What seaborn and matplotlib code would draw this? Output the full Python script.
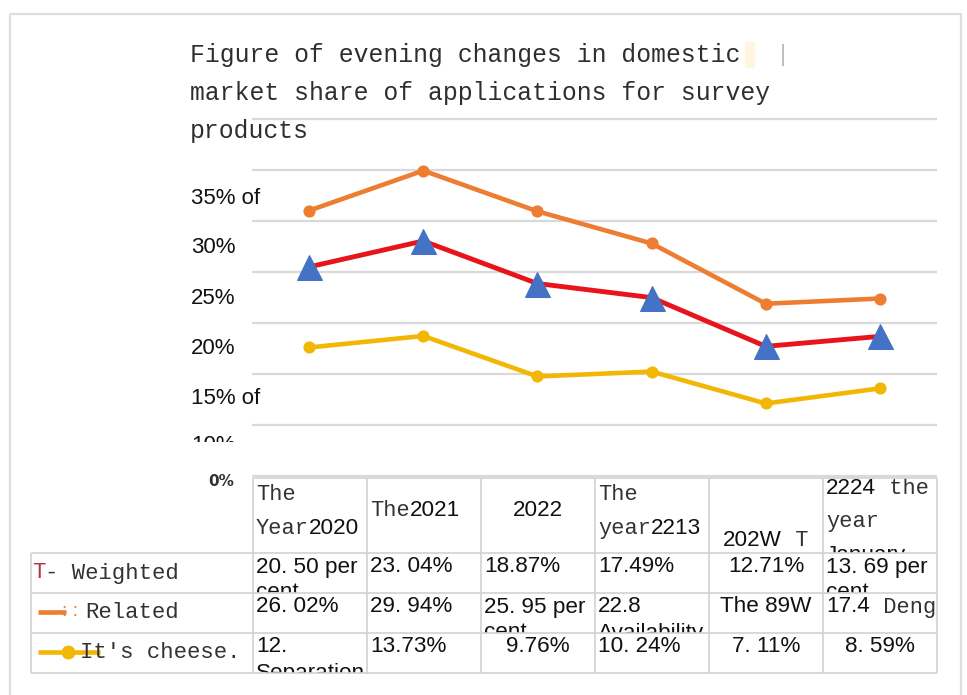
import re
import numpy as np
import pandas as pd
import matplotlib
matplotlib.use("Agg")
import matplotlib.pyplot as plt
import seaborn as sns
from matplotlib.transforms import ScaledTranslation, Bbox, TransformedBbox
from matplotlib.patches import Rectangle

# ---------------- data ----------------
years = ["2020", "2021", "2022", "2023", "2024", "2025"]
weighted = [20.50, 23.04, 18.87, 17.49, 12.71, 13.69]
related = [26.02, 29.94, 25.95, 22.80, 16.89, 17.40]
cheese = [12.60, 13.73, 9.76, 10.24, 7.11, 8.59]

title_lines = ["Figure of evening changes in domestic",
               "market share of applications for survey",
               "products"]
ytick_values = [0, 5, 10, 15, 20, 25, 30, 35]
ytick_labels = ["0%", "", "10%", "15% of", "20%", "25%", "30%", "35% of"]

# {...} marks text drawn in the serif face
header_cells = ["{The}\n{Year}2020", "{The}2021", "2022", "{The}\n{year}2213",
                "202W{ T}", "2224{ the}\n{year}\nJanuary"]
weighted_cells = ["20. 50 per\ncent", "23. 04%", "18.87%", "17.49%", "12.71%", "13. 69 per\ncent"]
related_cells = ["26. 02%", "29. 94%", "25. 95 per\ncent", "22.8\nAvailability", "The 89W", "17.4{ Deng}"]
cheese_cells = ["12.\nSeparation", "13.73%", "9.76%", "10. 24%", "7. 11%", "8. 59%"]

# ---------------- styles ----------------
C_ORANGE = "#ED7D31"
C_RED = "#E8141C"
C_BLUE = "#4472C4"
C_YELLOW = "#F2B705"
C_GRID = "#D9D9D9"
C_TABLE = "#D2D2D2"
SERIF = "Liberation Mono"
SANS = "Liberation Sans"

sns.set_theme(style="white")
plt.rcParams['font.family'] = [SANS, 'DejaVu Sans']

W, H = 967, 695
fig = plt.figure(figsize=(W / 100, H / 100), dpi=100)
fig.patch.set_facecolor("white")

# main axes: 0% at y=476 px, 35% at y=119 px; extended half a unit each side
px_per = (476 - 119) / 35.0
ax_left, ax_right = 252, 937
ax_bot = 476 + 0.5 * px_per
ax_top = 119 - 0.5 * px_per
ax = fig.add_axes([ax_left / W, 1 - ax_bot / H, (ax_right - ax_left) / W, (ax_bot - ax_top) / H])
ax.patch.set_alpha(0)

df_w = pd.DataFrame({"year": years, "share": weighted})
df_r = pd.DataFrame({"year": years, "share": related})
df_c = pd.DataFrame({"year": years, "share": cheese})

sns.lineplot(data=df_r, x="year", y="share", ax=ax, sort=False, errorbar=None,
             color=C_ORANGE, lw=3.3, marker="o", markersize=8,
             markeredgecolor=C_ORANGE, markerfacecolor=C_ORANGE)
sns.lineplot(data=df_c, x="year", y="share", ax=ax, sort=False, errorbar=None,
             color=C_YELLOW, lw=3.3, marker="o", markersize=8,
             markeredgecolor=C_YELLOW, markerfacecolor=C_YELLOW)
sns.lineplot(data=df_w, x="year", y="share", ax=ax, sort=False, errorbar=None,
             color=C_RED, lw=3.5, marker="^", markersize=18,
             markeredgecolor=C_BLUE, markerfacecolor=C_BLUE)

ax.set_xlim(-0.5, len(years) - 0.5)
ax.set_ylim(-0.5, 35.5)
ax.set_xlabel("")
ax.set_ylabel("")
ax.tick_params(axis="x", labelbottom=False, length=0)
for s in ax.spines.values():
    s.set_visible(False)
ax.set_yticks(ytick_values, ytick_labels)
ax.yaxis.grid(True, color=C_GRID, lw=1.6)
ax.xaxis.grid(False)
ax.tick_params(axis="y", length=0, pad=(ax_left - 191) * 0.72, labelsize=16, labelcolor="#111111")

label_dx = [17, 0, 0, 0, 0, 0, 0, 0]
label_dy = [4, 0, 69, 73, 74, 75, 75, 77]
for lab, dx, dy in zip(ax.get_yticklabels(), label_dx, label_dy):
    lab.set_horizontalalignment("left")
    lab.set_transform(lab.get_transform() + ScaledTranslation(dx / 100, -dy / 100, fig.dpi_scale_trans))
    if lab.get_text() == "0%":
        lab.set_fontfamily("DejaVu Sans")
        lab.set_fontweight("bold")
        lab.set_fontsize(11)
        lab.set_color("#333333")

# ---------------- overlay (pixel coordinates) ----------------
tax = fig.add_axes([0, 0, 1, 1], zorder=5)
tax.set_xlim(0, W)
tax.set_ylim(H, 0)
tax.axis("off")
tax.patch.set_alpha(0)

# outer frame
tax.add_patch(Rectangle((10, 14), 951, 700, fill=False, edgecolor="#DEDEDE", lw=1.6))

# hide the lower part of the "10%" label as in the reference
tax.add_patch(Rectangle((180, 442), 70, 29, facecolor="white", edgecolor="none", zorder=10))

# title
for i, line in enumerate(title_lines):
    tax.text(190, 55 + 38 * i, line, family=SERIF, fontsize=17.8, color="#2E2E2E",
             ha="left", va="center")
tax.add_patch(Rectangle((745, 42), 10, 26, facecolor="#FFF6E0", edgecolor="none"))
tax.text(783, 55, "|", fontsize=17, color="#BBBBBB", ha="center", va="center")

renderer = fig.canvas.get_renderer()


def parse(line):
    parts = re.split(r"(\{[^}]*\})", line)
    return [(p[1:-1], True) if p.startswith("{") else (p, False) for p in parts if p]


def seg_props(serif):
    if serif:
        return dict(family=SERIF, fontsize=15.8, color="#333333")
    return dict(family=SANS, fontsize=16.2, color="#111111")


def draw_line(x, y, line, ha, clip):
    segs = parse(line)
    widths = []
    for txt, serif in segs:
        t = tax.text(0, 0, txt, **seg_props(serif))
        widths.append(t.get_window_extent(renderer).width)
        t.remove()
    total = sum(widths)
    cx = x - total / 2 if ha == "center" else x
    for (txt, serif), w in zip(segs, widths):
        t = tax.text(cx, y, txt, ha="left", va="center", zorder=4, **seg_props(serif))
        t.set_clip_box(clip)
        t.set_clip_on(True)
        cx += w


def draw_cell(x0, x1, y0, y1, text, ha, first_off, spacing, pad=3):
    # text is clipped at the cell border, as in the reference
    clip = TransformedBbox(Bbox.from_extents(x0, y0, x1, y1), tax.transData)
    x = (x0 + x1) / 2 if ha == "center" else x0 + pad
    for k, line in enumerate(text.split("\n")):
        draw_line(x, y0 + first_off + k * spacing, line, ha, clip)


# table geometry
ncol = len(years)
col_edges = [ax_left + 1 + i * (ax_right - 1 - ax_left) / ncol for i in range(ncol + 1)]
label_left = 31
hdr_top, hdr_bot = 478, 553
row_edges = [553, 593, 633, 673]

tl = dict(color=C_TABLE, lw=1.2, solid_capstyle="butt", zorder=5)
tax.plot([col_edges[0], col_edges[-1]], [hdr_top, hdr_top], **tl)
for ry in row_edges:
    tax.plot([label_left, col_edges[-1]], [ry, ry], **tl)
tax.plot([label_left, label_left], [row_edges[0], row_edges[-1]], **tl)
for cx in col_edges:
    tax.plot([cx, cx], [hdr_top, row_edges[-1]], **tl)

# header cells
hdr_align = ["left", "left", "center", "left", "center", "left"]
hdr_first = [17, 33, 33, 17, 62, 10]
for i, txt in enumerate(header_cells):
    draw_cell(col_edges[i], col_edges[i + 1], hdr_top, hdr_bot, txt,
              hdr_align[i], hdr_first[i], 33.5)

# data cells
rows = [weighted_cells, related_cells, cheese_cells]
row_align = [["left", "left", "left", "left", "center", "left"],
             ["left", "left", "left", "left", "center", "left"],
             ["left", "left", "center", "left", "center", "center"]]
for r, cells in enumerate(rows):
    for i, txt in enumerate(cells):
        draw_cell(col_edges[i], col_edges[i + 1], row_edges[r], row_edges[r + 1], txt,
                  row_align[r][i], 14, 26)

# row labels with legend keys
lab_font = dict(family=SERIF, fontsize=16, va="center", ha="left", zorder=4)
rc = [(row_edges[k] + row_edges[k + 1]) / 2 for k in range(3)]
tax.text(32, rc[0], "T", color="#B8304A", **lab_font)
tax.text(45, rc[0], "- Weighted", color="#333333", **lab_font)

tax.plot([38, 66], [rc[1] - 1, rc[1] - 1], color=C_ORANGE, lw=3.3, solid_capstyle="butt")
tax.text(62, rc[1] - 1, ": :", family=SANS, fontsize=14, color=C_ORANGE, ha="left", va="center")
tax.text(85, rc[1], "Related", color="#333333", **lab_font)

tax.plot([38, 100], [rc[2] - 1, rc[2] - 1], color=C_YELLOW, lw=3.3, solid_capstyle="butt")
tax.plot([68], [rc[2] - 1], marker="o", ms=9, color=C_YELLOW)
tax.text(80, rc[2], "It's cheese.", color="#333333", **lab_font)

fig.savefig("out.png", dpi=100)
